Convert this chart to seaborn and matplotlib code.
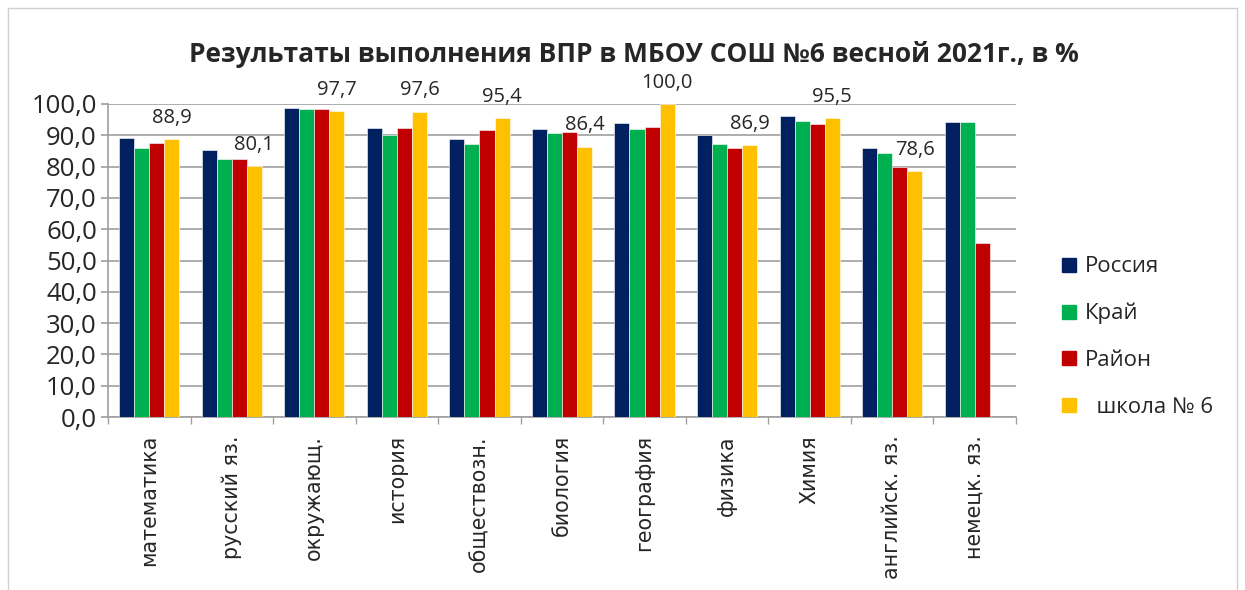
import pandas as pd
import matplotlib.pyplot as plt
import seaborn as sns
import numpy as np
from matplotlib.ticker import FuncFormatter, FixedLocator
from matplotlib.lines import Line2D

subjects = ['математика', 'русский яз.', 'окружающ.', 'история', 'обществозн.',
            'биология', 'география', 'физика', 'Химия', 'английск. яз.', 'немецк. яз.']
series_names = ['Россия', 'Край', 'Район', '  школа № 6']
russia = [89.0, 85.2, 98.6, 92.3, 88.7, 92.1, 94.0, 90.1, 96.2, 85.8, 94.2]
krai = [86.0, 82.4, 98.3, 90.0, 87.1, 90.6, 91.9, 87.2, 94.6, 84.2, 94.3]
raion = [87.4, 82.4, 98.4, 92.3, 91.7, 91.2, 92.7, 85.8, 93.5, 79.8, 55.5]
school = [88.9, 80.1, 97.7, 97.6, 95.4, 86.4, 100.0, 86.9, 95.5, 78.6, np.nan]
colors = ['#002060', '#00B050', '#C00000', '#FFC000']

sns.set_theme(style='white')
plt.rcParams['font.family'] = ['Open Sans', 'DejaVu Sans']

rows = []
for name, vals in zip(series_names, [russia, krai, raion, school]):
    for subj, v in zip(subjects, vals):
        if not np.isnan(v):
            rows.append({'Предмет': subj, 'Серия': name, 'Значение': v})
df = pd.DataFrame(rows)

fig = plt.figure(figsize=(12.45, 5.9), dpi=100)
ax = fig.add_axes([108 / 1245, 1 - 417 / 590, 908 / 1245, 313 / 590])

sns.barplot(data=df, x='Предмет', y='Значение', hue='Серия', order=subjects,
            hue_order=series_names, palette=colors, width=0.73, gap=0, legend=False,
            saturation=1, errorbar=None, ax=ax, zorder=3, edgecolor='white', linewidth=0.4)

# подписи только для школы
school_bars = ax.containers[3]
labels = [f'{v:.1f}'.replace('.', ',') for v in school if not np.isnan(v)]
ax.bar_label(school_bars, labels=labels, padding=8, fontsize=14.5)

ax.set_ylim(0, 100)
ax.set_xlim(-0.5, len(subjects) - 0.5)
ax.set_yticks(np.arange(0, 101, 10))
ax.yaxis.set_major_formatter(FuncFormatter(lambda v, p: f'{v:.1f}'.replace('.', ',')))
ax.tick_params(axis='y', labelsize=18.5, length=5, color='#A0A0A0', left=True, pad=3)
ax.grid(axis='y', color='#A0A0A0', linewidth=1.2, zorder=0)
ax.set_axisbelow(True)

ax.set_xticks(range(len(subjects)))
ax.set_xticklabels(subjects, rotation=90, fontsize=14.8, family='DejaVu Sans')
ax.tick_params(axis='x', length=0, pad=13)
ax.xaxis.set_minor_locator(FixedLocator(np.arange(-0.5, len(subjects), 1)))
ax.tick_params(axis='x', which='minor', length=5, color='#A0A0A0', bottom=True)

ax.set_xlabel('')
ax.set_ylabel('')
sns.despine(ax=ax, top=True, right=True)
for s in ['left', 'bottom']:
    ax.spines[s].set_color('#A0A0A0')
    ax.spines[s].set_linewidth(1.2)

fig.text(634 / 1245, 1 - 55 / 590, 'Результаты выполнения ВПР в МБОУ СОШ №6 весной 2021г., в %',
         fontsize=19, weight='bold', ha='center', va='center')

handles = [Line2D([0], [0], marker='s', color='none', markerfacecolor=c,
                  markeredgecolor=c, markersize=10) for c in colors]
leg = fig.legend(handles, series_names, loc='center left', bbox_to_anchor=(1036 / 1245, 1 - 337 / 590),
                 frameon=False, fontsize=16, labelspacing=1.15, handletextpad=0.1, handlelength=1.2)

# рамка диаграммы
fig.add_artist(Line2D([8 / 1245, 1237 / 1245], [1 - 8 / 590, 1 - 8 / 590], color='#D0D0D0', lw=1))
fig.add_artist(Line2D([8 / 1245, 8 / 1245], [0, 1 - 8 / 590], color='#D0D0D0', lw=1))
fig.add_artist(Line2D([1237 / 1245, 1237 / 1245], [0, 1 - 8 / 590], color='#D0D0D0', lw=1))

fig.savefig('out.png', dpi=100)
